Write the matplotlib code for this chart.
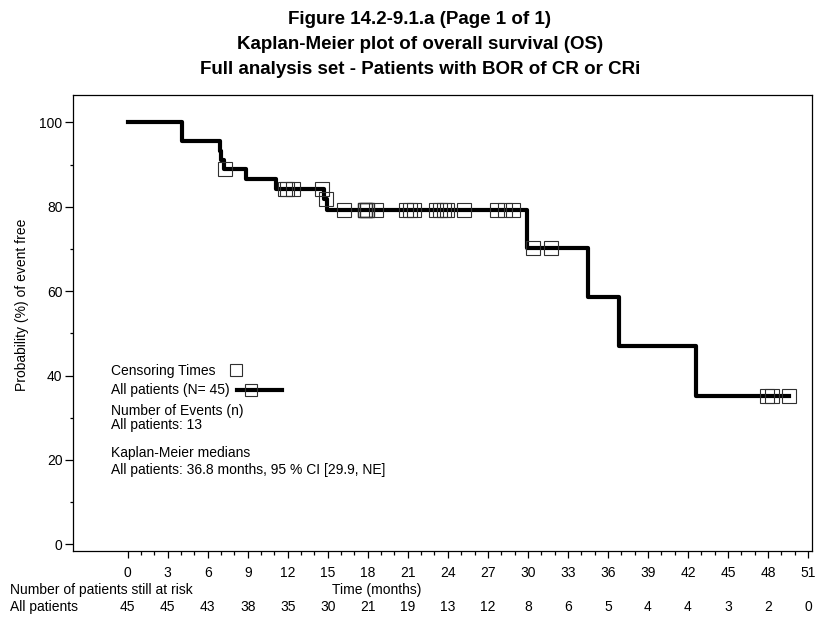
import numpy as np
import matplotlib
matplotlib.use("Agg")
import matplotlib.pyplot as plt
from matplotlib.ticker import MultipleLocator

plt.rcParams['font.family'] = ['Liberation Sans', 'DejaVu Sans']

# survival data (months)
event_times = [4.1, 4.1, 6.9, 7.0, 7.2, 8.85, 11.15, 14.7, 14.95, 29.9, 34.5, 36.8, 42.6]
censor_times = [7.3, 11.8, 11.95, 12.4, 14.6, 14.85, 16.2,
                17.8, 17.8, 17.8, 17.8, 17.8, 17.95, 17.95, 17.95,
                18.6, 20.9, 21.2, 21.45, 23.1, 23.45, 23.7, 23.9, 25.2,
                27.7, 28.3, 28.9, 30.4, 31.7, 47.9, 48.3, 49.6]

risk_times = [0, 3, 6, 9, 12, 15, 18, 21, 24, 27, 30, 33, 36, 39, 42, 45, 48, 51]
at_risk = [45, 45, 43, 38, 35, 30, 21, 19, 13, 12, 8, 6, 5, 4, 4, 3, 2, 0]

titles = ["Figure 14.2-9.1.a (Page 1 of 1)",
          "Kaplan-Meier plot of overall survival (OS)",
          "Full analysis set - Patients with BOR of CR or CRi"]

# Kaplan-Meier estimate
ev = np.array(event_times)
ce = np.array(censor_times)
all_t = np.concatenate([ev, ce])
uniq = np.unique(ev)
surv = []
s = 1.0
for t in uniq:
    n = np.sum(all_t >= t)
    d = np.sum(ev == t)
    s *= 1 - d / n
    surv.append(s * 100)
surv = np.array(surv)

step_t = np.concatenate([[0], uniq, [all_t.max()]])
step_s = np.concatenate([[100], surv, [surv[-1]]])

idx = np.searchsorted(uniq, ce, side='right') - 1
cens_s = np.where(idx >= 0, surv[np.clip(idx, 0, None)], 100)

W, H = 819, 617
fig = plt.figure(figsize=(W / 100, H / 100), dpi=100)


def px(x, y):
    return x / W, 1 - y / H


ax = fig.add_axes([73 / W, 1 - 551 / H, (812 - 73) / W, (551 - 95) / H])
ax.step(step_t, step_s, where='post', color='black', lw=3.0, zorder=3)
ax.plot(ce, cens_s, ls='none', marker='s', ms=10.5, mfc='none',
        mec='#303030', mew=0.8, zorder=4)

ax.set_xlim(-4.1, 51.3)
ax.set_ylim(-1.6, 106.5)
ax.set_xticks(risk_times)
ax.set_xticks([t for t in range(0, 52) if t % 3], minor=True)
ax.set_yticks([0, 20, 40, 60, 80, 100])
ax.yaxis.set_minor_locator(MultipleLocator(10))
fs = 10
ax.tick_params(axis='x', which='major', length=5, width=0.9, pad=6, labelsize=fs)
ax.tick_params(axis='x', which='minor', length=3, width=0.9)
ax.tick_params(axis='y', which='major', length=5.5, width=0.9, pad=2, labelsize=fs)
ax.tick_params(axis='y', which='minor', length=2.5, width=0.9)
for sp in ax.spines.values():
    sp.set_linewidth(0.9)

fig.text(*px(22, 305), "Probability (%) of event free", rotation=90,
         ha='center', va='center', fontsize=fs)

for i, line in enumerate(titles):
    fig.text(*px(420, 19 + i * 25.5), line, ha='center', va='center',
             fontsize=13.5, fontweight='bold')

# legend / annotation block
fig.text(*px(111, 371), "Censoring Times", va='center', fontsize=fs)
fig.text(*px(111, 390), "All patients (N= 45)", va='center', fontsize=fs)
fig.text(*px(111, 411), "Number of Events (n)", va='center', fontsize=fs)
fig.text(*px(111, 425), "All patients: %d" % len(event_times), va='center', fontsize=fs)
fig.text(*px(111, 453), "Kaplan-Meier medians", va='center', fontsize=fs)
fig.text(*px(111, 470), "All patients: 36.8 months, 95 % CI [29.9, NE]",
         va='center', fontsize=fs)

lx0, ly0 = px(236, 370)
fig.lines.append(plt.Line2D([lx0], [ly0], transform=fig.transFigure, ls='none',
                            marker='s', ms=8.5, mfc='none', mec='#303030', mew=0.8))
a0 = px(237, 390)
a1 = px(282, 390)
fig.lines.append(plt.Line2D([a0[0], a1[0]], [a0[1], a1[1]], transform=fig.transFigure,
                            color='black', lw=3.0))
b = px(251, 390)
fig.lines.append(plt.Line2D([b[0]], [b[1]], transform=fig.transFigure, ls='none',
                            marker='s', ms=8.5, mfc='none', mec='#303030', mew=0.8))

# number at risk table
fig.text(*px(10, 590), "Number of patients still at risk", va='center', fontsize=fs)
fig.text(*px(377, 590), "Time (months)", ha='center', va='center', fontsize=fs)
fig.text(*px(10, 607), "All patients", va='center', fontsize=fs)
ty = (551 - 607) / (551 - 95)
for t, n in zip(risk_times, at_risk):
    ax.text(t, ty, str(n), transform=ax.get_xaxis_transform(), ha='center',
            va='center', fontsize=fs, clip_on=False)

fig.savefig("out.png", dpi=100)
